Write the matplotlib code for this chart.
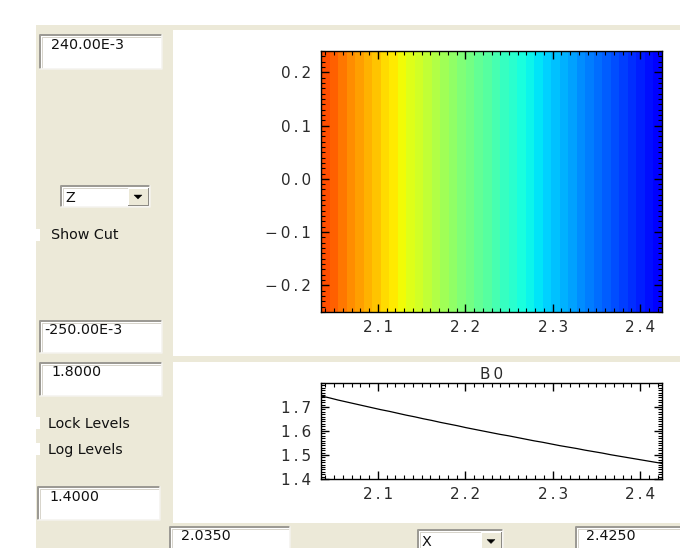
import numpy as np
import matplotlib
matplotlib.use("Agg")
import matplotlib.pyplot as plt
from matplotlib.patches import Rectangle, Polygon
from matplotlib.ticker import MultipleLocator, FixedLocator, FuncFormatter
from matplotlib.colors import Normalize

# ---- data -------------------------------------------------------------
R_MIN, R_MAX = 2.035, 2.425          # major-radius range
Z_MIN, Z_MAX = -0.250, 0.240         # vertical range
B0_LEVELS = (1.42, 1.81)             # colour scale for the field map
B0_AXIS = (1.40, 1.80)               # y range of the cut plot

# B0 on the 40 grid cells (constant in Z)
b0_cells = [1.742, 1.734, 1.725, 1.717, 1.709, 1.701, 1.693, 1.685, 1.678, 1.670,
            1.662, 1.655, 1.647, 1.640, 1.633, 1.625, 1.618, 1.611, 1.604, 1.597,
            1.590, 1.583, 1.576, 1.569, 1.563, 1.556, 1.549, 1.543, 1.536, 1.530,
            1.523, 1.517, 1.511, 1.505, 1.498, 1.492, 1.486, 1.480, 1.474, 1.468]

# B0 cut along R (grid nodes)
b0_cut = [1.746, 1.738, 1.729, 1.721, 1.713, 1.705, 1.697, 1.689, 1.682, 1.674,
          1.666, 1.659, 1.651, 1.644, 1.636, 1.629, 1.622, 1.614, 1.607, 1.600,
          1.593, 1.586, 1.580, 1.573, 1.566, 1.559, 1.553, 1.546, 1.539, 1.533,
          1.527, 1.520, 1.514, 1.508, 1.501, 1.495, 1.489, 1.483, 1.477, 1.471,
          1.465]

r_ticks = [2.1, 2.2, 2.3, 2.4]
z_ticks = [-0.2, -0.1, 0.0, 0.1, 0.2]
b0_ticks = [1.4, 1.5, 1.6, 1.7]

field_values = ["240.00E-3", "-250.00E-3", "1.8000", "1.4000", "2.0350", "2.4250"]

# ---- figure -----------------------------------------------------------
W, H = 680, 548
fig = plt.figure(figsize=(W / 100, H / 100), dpi=100)
fig.patch.set_facecolor("white")

BEIGE = "#ECE9D8"
PX = 0.72  # one pixel in points
GUI_SIZE = 10.3

bg = fig.add_axes([0, 0, 1, 1], zorder=0)
bg.set_xlim(0, W)
bg.set_ylim(H, 0)
bg.axis("off")


def rect(x0, y0, x1, y1, color):
    bg.add_patch(Rectangle((x0, y0), x1 - x0, y1 - y0, facecolor=color,
                           edgecolor="none", lw=0))


def sunken(x0, y0, x1, y1):
    rect(x0, y0, x1, y1, "white")
    bg.plot([x0, x0, x1], [y1, y0, y0], color="#9c9a94", lw=2 * PX,
            solid_capstyle="butt")
    bg.plot([x0 + 1.5, x0 + 1.5, x1 - 1], [y1 - 1, y0 + 1.5, y0 + 1.5],
            color="#d8d5cc", lw=PX, solid_capstyle="butt")
    bg.plot([x0, x1, x1], [y1, y1, y0], color="#f4f3ee", lw=1.5 * PX)


def label(x, y, s, size=GUI_SIZE):
    bg.text(x, y, s, ha="left", va="center", fontsize=size,
            family="DejaVu Sans", color="#111111")


def dropdown(x0, y0, x1, y1, s):
    sunken(x0, y0, x1, y1)
    bx0, bx1 = x1 - 22, x1 - 2
    rect(bx0, y0 + 2, bx1, y1 - 2, "#ECE9D8")
    bg.plot([bx0, bx0, bx1], [y1 - 2, y0 + 2, y0 + 2], color="white", lw=PX)
    bg.plot([bx0, bx1, bx1], [y1 - 2, y1 - 2, y0 + 2], color="#8c8a84", lw=PX)
    cx, cy = (bx0 + bx1) / 2, (y0 + y1) / 2
    bg.add_patch(Polygon([(cx - 4, cy - 1.5), (cx + 4, cy - 1.5), (cx, cy + 2.5)],
                         closed=True, facecolor="black", edgecolor="black", lw=0.3))
    label(x0 + 4, (y0 + y1) / 2 + 1, s)


# panel background and white drawing areas
rect(36, 25, W, H, BEIGE)
rect(173, 30, W, 356, "white")
rect(173, 362, W, 523, "white")

# left control column
sunken(40, 35, 162, 69)
label(51, 45, field_values[0])
dropdown(61, 186, 150, 207, "Z")
rect(36, 229, 40, 241, "white")
label(51, 235, "Show Cut")
sunken(40, 321, 162, 353)
label(44, 330, field_values[1])
sunken(40, 363, 162, 396)
label(51, 372, field_values[2])
rect(36, 417, 40, 429, "white")
label(48, 424, "Lock Levels")
rect(36, 443, 40, 455, "white")
label(48, 450, "Log Levels")
sunken(38, 487, 160, 520)
label(49, 497, field_values[3])

# bottom control row
sunken(170, 527, 290, 552)
label(181, 536, field_values[4])
dropdown(418, 530, 503, 552, "X")
sunken(576, 527, 684, 552)
label(586, 536, field_values[5])


# ---- plot styling helpers ---------------------------------------------
def spaced(v):
    s = f"{v:.1f}".replace("-", "\u2212")
    return "\u2009".join(s)


def style_axes(ax):
    for sp in ax.spines.values():
        sp.set_linewidth(1.0)
        sp.set_color("black")
    ax.tick_params(which="both", direction="in", top=True, right=True,
                   colors="black", labelcolor="#2a2a2a", labelsize=11)
    ax.tick_params(which="major", length=6, width=1.0)
    ax.tick_params(which="minor", length=3, width=0.8)
    ax.tick_params(axis="y", pad=7)
    ax.tick_params(axis="x", pad=6)
    ax.xaxis.set_major_locator(FixedLocator(r_ticks))
    ax.xaxis.set_minor_locator(MultipleLocator(0.01))
    ax.xaxis.set_major_formatter(FuncFormatter(lambda v, p: spaced(v)))
    ax.yaxis.set_major_formatter(FuncFormatter(lambda v, p: spaced(v)))


def px_axes(x0, y0, x1, y1):
    return fig.add_axes([x0 / W, 1 - y1 / H, (x1 - x0) / W, (y1 - y0) / H], zorder=2)


# ---- B0 map -----------------------------------------------------------
ax1 = px_axes(321, 51, 662, 312)
r_edges = np.linspace(R_MIN, R_MAX, len(b0_cells) + 1)
z_edges = np.array([Z_MIN, Z_MAX])
field = np.array(b0_cells)[np.newaxis, :]
ax1.pcolormesh(r_edges, z_edges, field, cmap="jet",
               norm=Normalize(*B0_LEVELS), shading="flat",
               edgecolors="none", antialiased=False)
ax1.set_xlim(R_MIN, R_MAX)
ax1.set_ylim(Z_MIN, Z_MAX)
style_axes(ax1)
ax1.yaxis.set_major_locator(FixedLocator(z_ticks))
ax1.yaxis.set_minor_locator(MultipleLocator(0.01))

# ---- B0 cut -----------------------------------------------------------
ax2 = px_axes(321, 383, 662, 479)
r_nodes = np.linspace(R_MIN, R_MAX, len(b0_cut))
ax2.plot(r_nodes, b0_cut, color="black", lw=0.9)
ax2.set_xlim(R_MIN, R_MAX)
ax2.set_ylim(*B0_AXIS)
style_axes(ax2)
ax2.yaxis.set_major_locator(FixedLocator(b0_ticks))
ax2.yaxis.set_minor_locator(MultipleLocator(0.01))
ax2.set_title("B\u20090", fontsize=11, color="#2a2a2a", pad=3)

fig.savefig("out.png", dpi=100, facecolor="white")
